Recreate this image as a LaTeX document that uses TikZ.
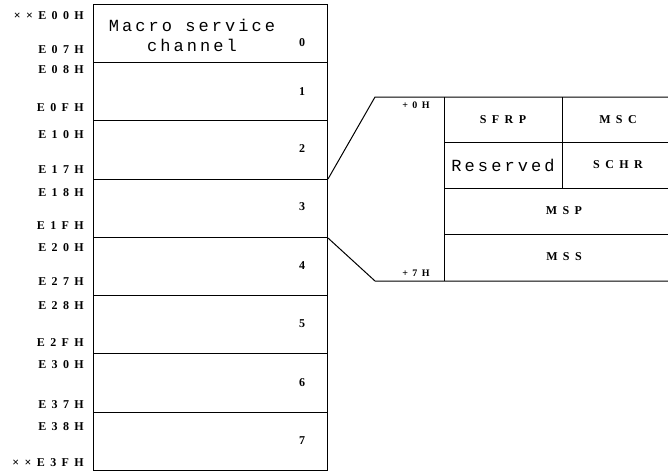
\documentclass[tikz,border=0pt]{standalone}
\usepackage{fontspec}
\setmainfont{Liberation Serif}
\newfontfamily\addrfont{Liberation Serif}[LetterSpace=45]
\newfontfamily\twfont{Liberation Mono}[LetterSpace=18]
\begin{document}
\begin{tikzpicture}[x=1pt,y=-1pt,
  frame/.style={line width=1pt},
  rowbox/.style={draw,frame,anchor=north west,minimum width=234pt,inner sep=0pt},
  addr/.style={anchor=east,inner sep=0pt,font=\addrfont\fontsize{12}{14}\selectfont\bfseries},
  num/.style={inner sep=0pt,font=\fontsize{12}{14}\selectfont\bfseries},
  fld/.style={inner sep=0pt,font=\addrfont\fontsize{12}{14}\selectfont\bfseries},
  ofs/.style={inner sep=0pt,font=\addrfont\fontsize{10}{12}\selectfont\bfseries},
  tw/.style={inner sep=0pt,align=center,font=\twfont\fontsize{17}{20}\selectfont}]
\useasboundingbox (0,0) rectangle (668,471);

% channel table, one box per channel
\node[rowbox,minimum height=58pt] (r0) at (93,4)   {};
\node[rowbox,minimum height=58pt] (r1) at (93,62)  {};
\node[rowbox,minimum height=59pt] (r2) at (93,120) {};
\node[rowbox,minimum height=58pt] (r3) at (93,179) {};
\node[rowbox,minimum height=58pt] (r4) at (93,237) {};
\node[rowbox,minimum height=58pt] (r5) at (93,295) {};
\node[rowbox,minimum height=59pt] (r6) at (93,353) {};
\node[rowbox,minimum height=58pt] (r7) at (93,412) {};

\node[tw] (title) at (192,35) {Macro service\\channel};

% channel numbers
\node[num] (n0) at (302,43)  {0};
\node[num] (n1) at (302,92)  {1};
\node[num] (n2) at (302,149) {2};
\node[num] (n3) at (302,207) {3};
\node[num] (n4) at (302,266) {4};
\node[num] (n5) at (302,324) {5};
\node[num] (n6) at (302,383) {6};
\node[num] (n7) at (302,441) {7};

% start / end addresses of each channel
\node[addr] (a0s) at (84,16)  {××E00H};
\node[addr] (a0e) at (84,50)  {E07H};
\node[addr] (a1s) at (84,70)  {E08H};
\node[addr] (a1e) at (84,108) {E0FH};
\node[addr] (a2s) at (84,135) {E10H};
\node[addr] (a2e) at (84,170) {E17H};
\node[addr] (a3s) at (84,193) {E18H};
\node[addr] (a3e) at (84,226) {E1FH};
\node[addr] (a4s) at (84,248) {E20H};
\node[addr] (a4e) at (84,282) {E27H};
\node[addr] (a5s) at (84,306) {E28H};
\node[addr] (a5e) at (84,343) {E2FH};
\node[addr] (a6s) at (84,365) {E30H};
\node[addr] (a6e) at (84,405) {E37H};
\node[addr] (a7s) at (84,427) {E38H};
\node[addr] (a7e) at (84,463) {××E3FH};

% expanded view of channel 3
\coordinate (et) at (375,97);
\coordinate (eb) at (375,281);
\draw[frame] (r3.north east) -- (et) -- (668,97);
\draw[frame] (r3.south east) -- (eb) -- (668,281);
\draw[frame] (444,97) -- (444,281);
\draw[frame] (562,97) -- (562,188);
\draw[frame] (444,142) -- (668,142);
\draw[frame] (444,188) -- (668,188);
\draw[frame] (444,234) -- (668,234);

\node[ofs] (o0) at (416,105) {+0H};
\node[ofs] (o7) at (416,273) {+7H};

\node[fld] (sfrp) at (503,120) {SFRP};
\node[fld] (msc)  at (618,120) {MSC};
\node[tw]  (rsv)  at (503,165) {Reserved};
\node[fld] (schr) at (618,165) {SCHR};
\node[fld] (msp)  at (564,211) {MSP};
\node[fld] (mss)  at (564,257) {MSS};
\end{tikzpicture}
\end{document}
